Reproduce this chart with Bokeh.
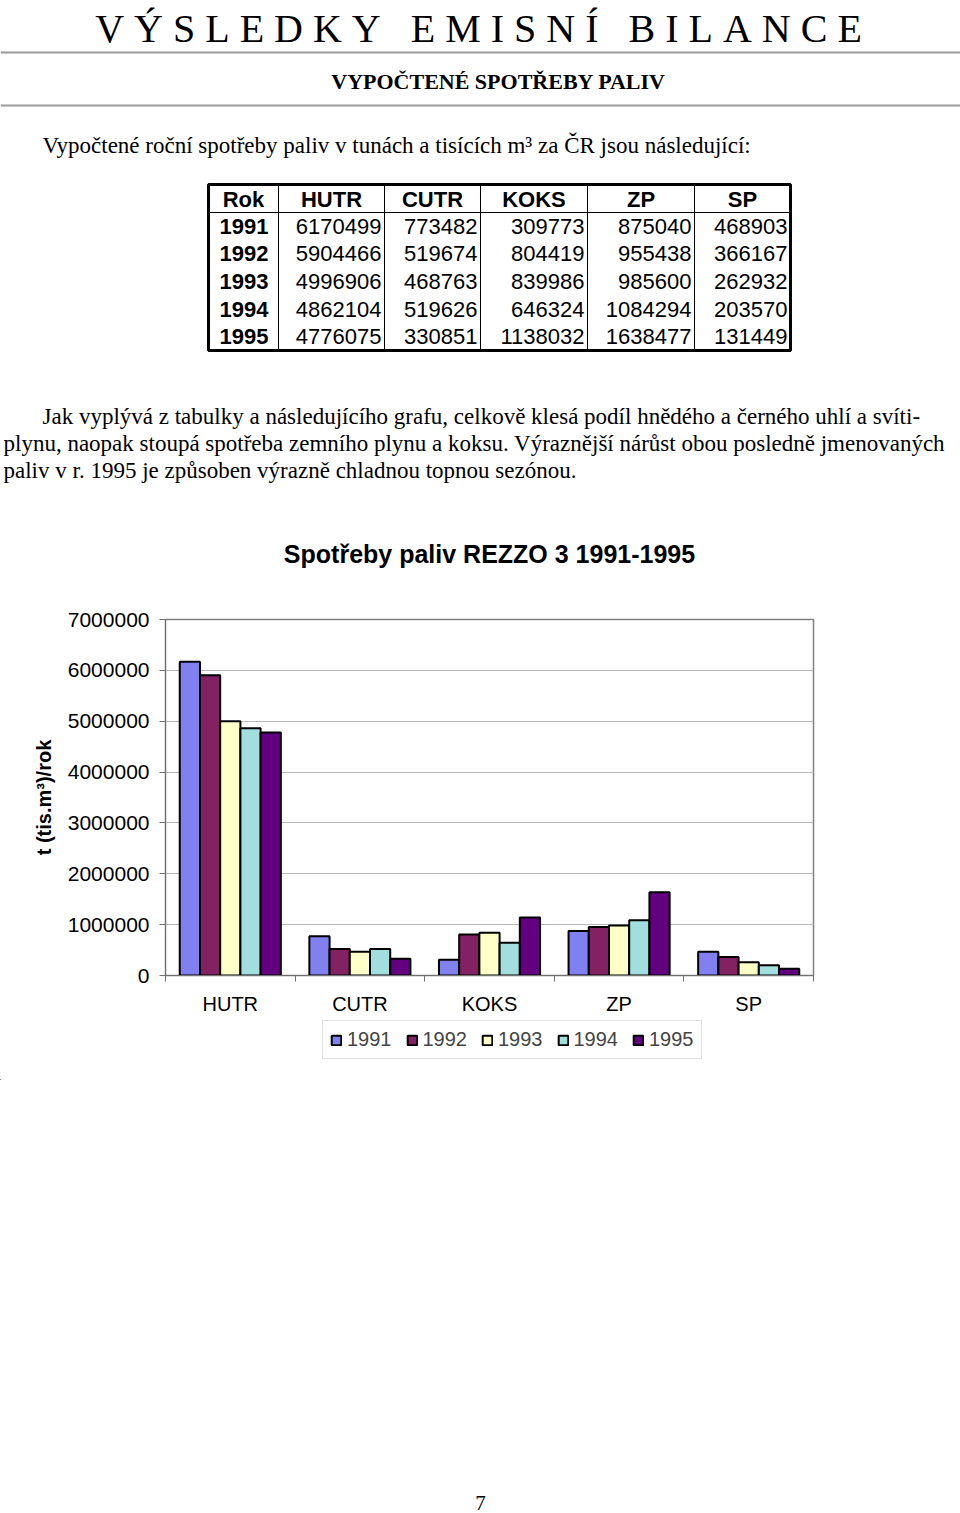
from bokeh.plotting import figure
from bokeh.models import (Range1d, FixedTicker, BasicTickFormatter, Legend, LegendItem,
                          ColumnDataSource)
from bokeh.core.properties import value
from bokeh.embed import file_html
from bokeh.resources import INLINE
import numpy as np

# ---------------- data ----------------
fuels = ["HUTR", "CUTR", "KOKS", "ZP", "SP"]
years = ["1991", "1992", "1993", "1994", "1995"]
v1991 = [6170499, 773482, 309773, 875040, 468903]
v1992 = [5904466, 519674, 804419, 955438, 366167]
v1993 = [4996906, 468763, 839986, 985600, 262932]
v1994 = [4862104, 519626, 646324, 1084294, 203570]
v1995 = [4776075, 330851, 1138032, 1638477, 131449]
series = [v1991, v1992, v1993, v1994, v1995]
colors = ["#8080F0", "#822262", "#FFFFC8", "#A2DEDE", "#620080"]
y_ticks = [0, 1000000, 2000000, 3000000, 4000000, 5000000, 6000000, 7000000]

SERIF = value("Liberation Serif")
SANS = value("Liberation Sans")
NB = "\u00a0"

# ---------------- top part of page ----------------
H1 = 484
top = figure(width=960, height=H1, x_range=Range1d(0, 960), y_range=Range1d(H1, 0),
             output_backend="svg", toolbar_location=None, min_border=0,
             outline_line_color=None)
top.axis.visible = False
top.grid.visible = False

title_txt = (NB * 3).join(NB.join(w) for w in "VÝSLEDKY EMISNÍ BILANCE".split())
top.text(x=[478], y=[28], text=[title_txt], text_font=SERIF, text_font_size="40px",
         text_align="center", text_baseline="middle", text_color="black")
top.segment(x0=[0, 0], y0=[52, 105], x1=[960, 960], y1=[52, 105],
            line_color="#9a9a9a", line_width=2)
top.text(x=[498], y=[81], text=["VYPOČTENÉ SPOTŘEBY PALIV"], text_font=SERIF,
         text_font_size="22px", text_font_style="bold", text_align="center",
         text_baseline="middle", text_color="black")
top.text(x=[42], y=[145], text=["Vypočtené roční spotřeby paliv v tunách a tisících m³ za ČR jsou následující:"],
         text_font=SERIF, text_font_size="23px", text_align="left",
         text_baseline="middle", text_color="black")

# table
col_edges = [208, 278, 384, 480, 587, 694, 790]
row_top, head_bottom, row_bottom = 184, 212, 350
row_h = (row_bottom - head_bottom) / len(years)
top.quad(left=[col_edges[0]], right=[col_edges[-1]], top=[row_top], bottom=[row_bottom],
         fill_color=None, line_color="black", line_width=3)
top.segment(x0=col_edges[1:-1], y0=[row_top] * 5, x1=col_edges[1:-1], y1=[row_bottom] * 5,
            line_color="black", line_width=1)
top.segment(x0=[col_edges[0]], y0=[head_bottom], x1=[col_edges[-1]], y1=[head_bottom],
            line_color="black", line_width=1)
headers = ["Rok"] + fuels
hx = [(col_edges[i] + col_edges[i + 1]) / 2 for i in range(6)]
top.text(x=hx, y=[199] * 6, text=headers, text_font=SANS, text_font_size="22px",
         text_font_style="bold", text_align="center", text_baseline="middle",
         text_color="black")
ry = [head_bottom + row_h * (k + 0.5) for k in range(len(years))]
top.text(x=[219] * 5, y=ry, text=years, text_font=SANS, text_font_size="22px",
         text_font_style="bold", text_align="left", text_baseline="middle",
         text_color="black")
for ci in range(5):
    vals = [str(series[k][ci]) for k in range(5)]
    top.text(x=[col_edges[ci + 2] - 3] * 5, y=ry, text=vals, text_font=SANS,
             text_font_size="22px", text_align="right", text_baseline="middle",
             text_color="black")

para = [
    "Jak vyplývá z tabulky a následujícího grafu, celkově klesá podíl hnědého a černého uhlí a svíti-",
    "plynu, naopak stoupá spotřeba zemního plynu a koksu. Výraznější nárůst obou posledně jmenovaných",
    "paliv v r. 1995 je způsoben výrazně chladnou topnou sezónou.",
]
top.text(x=[42, 3, 3], y=[416, 443, 470], text=para, text_font=SERIF,
         text_font_size="23px", text_align="left", text_baseline="middle",
         text_color="black")

# ---------------- chart ----------------
TOPB, FH, BOTB = 135, 356, 45
p = figure(frame_width=648, frame_height=FH, x_range=Range1d(0, 5),
           y_range=Range1d(0, 7000000),
           output_backend="svg", toolbar_location=None,
           min_border_left=165, min_border_right=147, min_border_top=TOPB,
           min_border_bottom=BOTB, outline_line_color="#808080", outline_line_width=1.5)
p.title.text = "Spotřeby paliv REZZO 3 1991-1995"
p.title.text_font = "Liberation Sans"
p.title.text_font_size = "25px"
p.title.text_font_style = "bold"
p.title.text_color = "black"
p.title.align = "center"
p.title.standoff = 104

gap, bw = 0.11, 0.156
idx = np.arange(len(fuels))
for j, (yr, vals, c) in enumerate(zip(years, series, colors)):
    src = ColumnDataSource(dict(x=idx + gap + (j + 0.5) * bw, top=vals))
    p.vbar(x="x", top="top", width=bw, bottom=0, source=src, fill_color=c,
           line_color="black", line_width=2)

p.xgrid.visible = False
p.ygrid.ticker = FixedTicker(ticks=y_ticks)
p.ygrid.grid_line_color = "#b8b8b8"
p.ygrid.grid_line_width = 1

p.yaxis.ticker = FixedTicker(ticks=y_ticks)
p.yaxis.formatter = BasicTickFormatter(use_scientific=False)
p.yaxis.axis_label = "t (tis.m³)/rok"
p.yaxis.axis_label_text_font = "Liberation Sans"
p.yaxis.axis_label_text_font_size = "20px"
p.yaxis.axis_label_text_font_style = "bold"
p.yaxis.axis_label_text_color = "black"
p.yaxis.axis_label_standoff = 10
p.yaxis.major_label_text_font = "Liberation Sans"
p.yaxis.major_label_text_font_size = "21px"
p.yaxis.major_label_text_color = "black"
p.yaxis.major_label_standoff = 10
p.yaxis.major_tick_out = 6
p.yaxis.major_tick_in = 0
p.yaxis.minor_tick_out = 0
p.yaxis.minor_tick_in = 0
p.yaxis.axis_line_color = "#707070"
p.yaxis.major_tick_line_color = "#707070"

p.xaxis.ticker = FixedTicker(ticks=[i + 0.5 for i in range(5)], minor_ticks=list(range(6)))
p.xaxis.major_label_overrides = {i + 0.5: f for i, f in enumerate(fuels)}
p.xaxis.major_tick_out = 0
p.xaxis.major_tick_in = 0
p.xaxis.minor_tick_out = 6
p.xaxis.minor_tick_in = 0
p.xaxis.minor_tick_line_color = "#707070"
p.xaxis.axis_line_color = "#707070"
p.xaxis.major_label_standoff = 11
p.xaxis.major_label_text_font = "Liberation Sans"
p.xaxis.major_label_text_font_size = "20px"
p.xaxis.major_label_text_color = "black"

# ---------------- legend strip ----------------
HL = 60
lg = figure(width=960, height=HL, x_range=Range1d(0, 960), y_range=Range1d(0, HL),
            output_backend="svg", toolbar_location=None, min_border=0,
            outline_line_color=None)
lg.axis.visible = False
lg.grid.visible = False
items = []
for yr, c in zip(years, colors):
    # swatch source kept outside the visible range; only the legend swatch shows
    r = lg.vbar(x="x", top="top", width=1, bottom=0,
                source=ColumnDataSource(dict(x=[-1000], top=[0])),
                fill_color=c, line_color="black", line_width=2)
    items.append(LegendItem(label=yr, renderers=[r]))
legend = Legend(items=items, orientation="horizontal", location=(322, 21),
                label_text_font="Liberation Sans", label_text_font_size="20px",
                glyph_width=12, glyph_height=12, label_standoff=5, spacing=14,
                padding=7, margin=0, border_line_color="#c0c0c0", border_line_width=1)
lg.add_layout(legend)

# ---------------- bottom of page ----------------
H3 = 1513 - H1 - (TOPB + FH + BOTB) - HL
bot = figure(width=960, height=H3, x_range=Range1d(0, 960), y_range=Range1d(H3, 0),
             output_backend="svg", toolbar_location=None, min_border=0,
             outline_line_color=None)
bot.axis.visible = False
bot.grid.visible = False
bot.text(x=[480], y=[H3 - 11], text=["7"], text_font=SERIF, text_font_size="21px",
         text_align="center", text_baseline="middle", text_color="black")

open("out.html", "w").write(file_html([top, p, lg, bot], INLINE))
